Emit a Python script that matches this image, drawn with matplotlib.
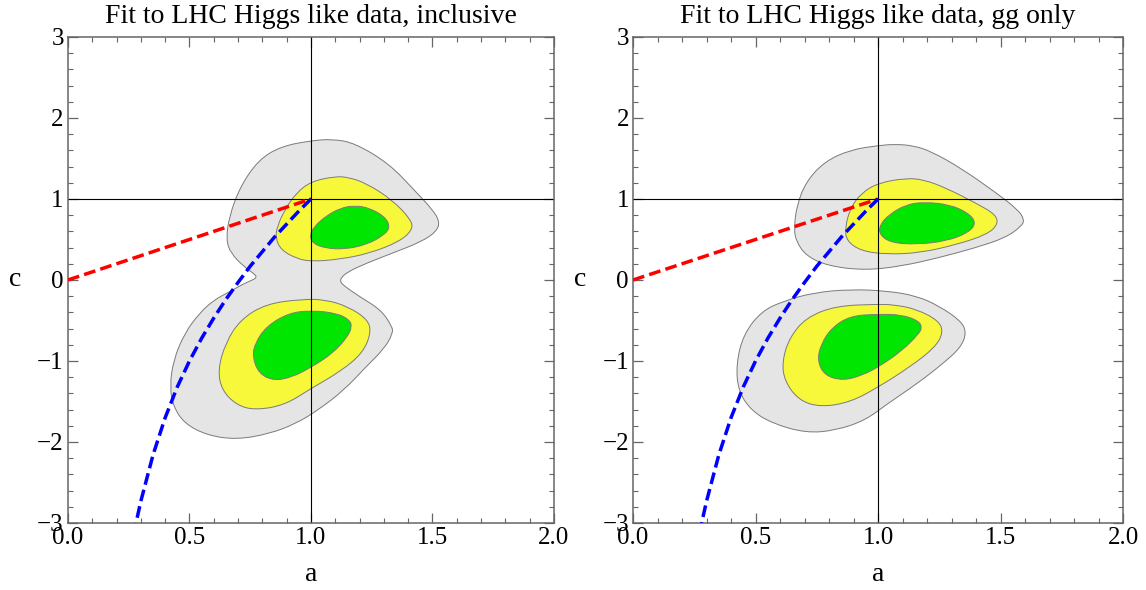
import matplotlib
matplotlib.use('Agg')
import matplotlib.pyplot as plt
from matplotlib.ticker import MultipleLocator, FuncFormatter
from matplotlib.path import Path
from matplotlib.patches import PathPatch

plt.rcParams['font.family'] = ['Liberation Serif', 'DejaVu Serif']

titles = ['Fit to LHC Higgs like data, inclusive', 'Fit to LHC Higgs like data, gg only']

# contour outlines, (a, c) pairs
left_gray = [(1.09, 1.74), (1.18, 1.69), (1.32, 1.44), (1.425, 1.11), (1.50, 0.87), (1.53, 0.72),
             (1.517, 0.60), (1.456, 0.474), (1.334, 0.33), (1.227, 0.206), (1.151, 0.10), (1.125, 0.03),
             (1.12, -0.02), (1.135, -0.07), (1.197, -0.20), (1.288, -0.368), (1.334, -0.574), (1.337, -0.657),
             (1.303, -0.843), (1.227, -1.07), (1.136, -1.36), (1.029, -1.607), (0.938, -1.773),
             (0.831, -1.897), (0.694, -1.971), (0.572, -1.917), (0.48, -1.773), (0.434, -1.566),
             (0.419, -1.318), (0.434, -0.988), (0.48, -0.657), (0.541, -0.409), (0.602, -0.244),
             (0.663, -0.15), (0.72, -0.05), (0.76, 0.0), (0.778, 0.035), (0.765, 0.08), (0.724, 0.165),
             (0.67, 0.33), (0.651, 0.495), (0.663, 0.78), (0.709, 1.155), (0.785, 1.485), (0.877, 1.65),
             (1.0, 1.72)]
left_yellow_up = [(1.098, 1.278), (1.151, 1.27), (1.227, 1.196), (1.334, 0.99), (1.413, 0.742),
                  (1.418, 0.619), (1.364, 0.474), (1.242, 0.33), (1.12, 0.256), (1.0, 0.227),
                  (0.938, 0.268), (0.877, 0.371), (0.854, 0.515), (0.861, 0.66), (0.892, 0.866),
                  (0.938, 1.07), (1.0, 1.216)]
left_green_up = [(1.181, 0.92), (1.242, 0.887), (1.303, 0.784), (1.326, 0.66), (1.303, 0.557),
                 (1.227, 0.433), (1.136, 0.379), (1.059, 0.392), (1.006, 0.454), (0.995, 0.557),
                 (1.014, 0.66), (1.059, 0.784), (1.12, 0.887)]
left_yellow_low = [(0.968, -0.236), (1.06, -0.244), (1.151, -0.326), (1.235, -0.49), (1.247, -0.657),
                   (1.212, -0.905), (1.12, -1.132), (1.0, -1.34), (0.892, -1.545), (0.77, -1.607),
                   (0.694, -1.545), (0.633, -1.36), (0.617, -1.11), (0.648, -0.78), (0.709, -0.49),
                   (0.816, -0.293)]
left_green_low = [(1.0, -0.376), (1.105, -0.409), (1.158, -0.49), (1.169, -0.574), (1.151, -0.70),
                  (1.09, -0.905), (1.0, -1.08), (0.922, -1.2), (0.846, -1.244), (0.785, -1.153),
                  (0.759, -0.946), (0.77, -0.78), (0.816, -0.574), (0.907, -0.409)]

right_gray_up = [(1.068, 1.676), (1.143, 1.66), (1.218, 1.586), (1.338, 1.381), (1.474, 1.094),
                 (1.571, 0.869), (1.597, 0.746), (1.586, 0.664), (1.519, 0.52), (1.398, 0.398),
                 (1.248, 0.275), (1.098, 0.172), (0.947, 0.119), (0.797, 0.172), (0.707, 0.295),
                 (0.665, 0.48), (0.657, 0.643), (0.669, 0.93), (0.707, 1.217), (0.782, 1.463),
                 (0.887, 1.607), (1.0, 1.66)]
right_yellow_up = [(1.113, 1.258), (1.188, 1.238), (1.278, 1.135), (1.398, 0.951), (1.481, 0.807),
                   (1.489, 0.684), (1.444, 0.561), (1.323, 0.439), (1.173, 0.336), (1.038, 0.316),
                   (0.932, 0.357), (0.872, 0.48), (0.865, 0.643), (0.887, 0.889), (0.932, 1.074),
                   (1.0, 1.197)]
right_green_up = [(1.188, 0.963), (1.293, 0.93), (1.368, 0.828), (1.401, 0.705), (1.368, 0.582),
                  (1.278, 0.48), (1.158, 0.439), (1.053, 0.459), (1.005, 0.561), (1.008, 0.684),
                  (1.045, 0.807), (1.113, 0.93)]
right_gray_low = [(0.887, -0.115), (1.038, -0.135), (1.158, -0.197), (1.248, -0.32), (1.338, -0.504),
                  (1.361, -0.648), (1.338, -0.832), (1.263, -1.037), (1.158, -1.283), (1.038, -1.529),
                  (0.947, -1.734), (0.827, -1.857), (0.707, -1.889), (0.571, -1.775), (0.481, -1.61),
                  (0.429, -1.365), (0.421, -1.037), (0.451, -0.668), (0.526, -0.381), (0.617, -0.258),
                  (0.737, -0.156)]
right_yellow_low = [(1.0, -0.299), (1.068, -0.307), (1.158, -0.361), (1.248, -0.504), (1.266, -0.648),
                    (1.233, -0.832), (1.128, -1.078), (1.0, -1.324), (0.887, -1.508), (0.767, -1.57),
                    (0.677, -1.488), (0.617, -1.242), (0.609, -0.996), (0.639, -0.709), (0.707, -0.463),
                    (0.827, -0.32)]
right_green_low = [(1.0, -0.422), (1.098, -0.43), (1.165, -0.504), (1.18, -0.586), (1.165, -0.668),
                   (1.098, -0.873), (1.0, -1.078), (0.932, -1.18), (0.857, -1.242), (0.782, -1.18),
                   (0.752, -0.996), (0.767, -0.791), (0.812, -0.586), (0.887, -0.443)]

# dashed model curves
red_a = [0.0, 1.0]
red_c = [0.0, 1.0]
blue_a = [1.0, 0.95, 0.9, 0.85, 0.8, 0.75, 0.7, 0.65, 0.6, 0.55, 0.5, 0.45, 0.4, 0.35, 0.3, 0.28]
blue_c = [1.0, 0.85, 0.69, 0.53, 0.35, 0.17, -0.03, -0.24, -0.47, -0.72, -1.0, -1.32, -1.7, -2.16, -2.73, -3.0]

GRAY, YELLOW, GREEN = '#e5e5e5', '#f8f83a', '#00e600'
panels = [
    [(left_gray, GRAY), (left_yellow_up, YELLOW), (left_green_up, GREEN),
     (left_yellow_low, YELLOW), (left_green_low, GREEN)],
    [(right_gray_up, GRAY), (right_gray_low, GRAY), (right_yellow_up, YELLOW),
     (right_green_up, GREEN), (right_yellow_low, YELLOW), (right_green_low, GREEN)],
]


# closed outline drawn as a smooth quadratic curve through the read points
def smooth_outline(pts):
    n = len(pts)
    mids = [((pts[i][0] + pts[(i + 1) % n][0]) / 2, (pts[i][1] + pts[(i + 1) % n][1]) / 2) for i in range(n)]
    verts = [mids[-1]]
    codes = [Path.MOVETO]
    for i in range(n):
        verts += [pts[i], mids[i]]
        codes += [Path.CURVE3, Path.CURVE3]
    return Path(verts, codes)


minus_fmt = FuncFormatter(lambda v, p: ('%d' % round(v)).replace('-', '\u2212'))

fig = plt.figure(figsize=(11.46, 5.90), dpi=100)
boxes = [[0.0593, 0.1136, 0.4241, 0.8237], [0.5524, 0.1136, 0.4276, 0.8237]]

for k in range(2):
    ax = fig.add_axes(boxes[k])
    for pts, col in panels[k]:
        patch = PathPatch(smooth_outline(pts), facecolor=col, edgecolor='#7a7a7a', lw=0.7, zorder=1)
        ax.add_patch(patch)

    ax.axvline(1.0, color='black', lw=0.8, zorder=2)
    ax.axhline(1.0, color='black', lw=0.8, zorder=2)

    ax.plot(red_a, red_c, color='red', lw=2.5, linestyle=(0, (3.4, 1.5)), zorder=3)
    ax.plot(blue_a, blue_c, color='blue', lw=2.5, linestyle=(0, (3.4, 1.5)), zorder=3)

    ax.set_xlim(0, 2)
    ax.set_ylim(-3, 3)
    ax.xaxis.set_major_locator(MultipleLocator(0.5))
    ax.xaxis.set_minor_locator(MultipleLocator(0.1))
    ax.yaxis.set_major_locator(MultipleLocator(1))
    ax.yaxis.set_minor_locator(MultipleLocator(0.2))
    ax.xaxis.set_major_formatter(plt.FormatStrFormatter('%.1f'))
    ax.yaxis.set_major_formatter(minus_fmt)
    ax.tick_params(which='both', direction='in', top=True, right=True, color='#666666',
                   labelsize=18, pad=3)
    ax.tick_params(which='major', length=7, width=0.9)
    ax.tick_params(which='minor', length=3.5, width=0.8)
    for sp in ax.spines.values():
        sp.set_color('#666666')
        sp.set_linewidth(1.1)

    ax.set_xlabel('a', fontsize=20)
    ax.xaxis.set_label_coords(0.5, -0.107)
    ax.xaxis.label.set_va('center')
    ax.set_ylabel('c', fontsize=20, rotation=0, va='center', ha='center')
    ax.yaxis.set_label_coords(-0.108, 0.5)

    ax.text(0.5, 1.029, titles[k], transform=ax.transAxes, ha='center', va='baseline', fontsize=20)

fig.savefig('out.png', dpi=100)
